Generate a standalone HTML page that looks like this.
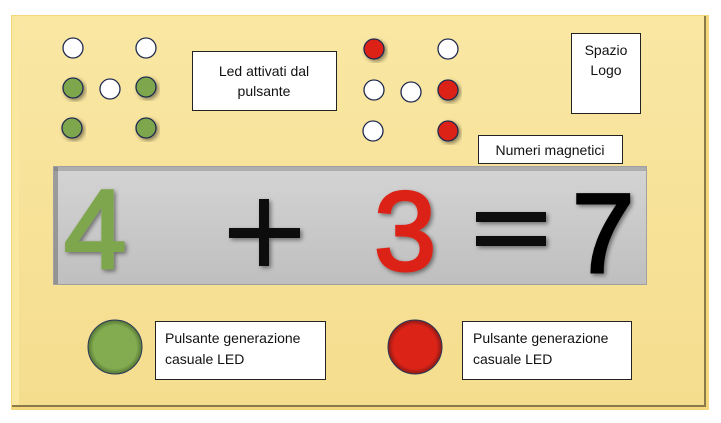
<!DOCTYPE html>
<html><head><meta charset="utf-8"><style>
html,body{margin:0;padding:0;background:#fff;width:721px;height:423px;overflow:hidden}
svg{display:block}
text{font-family:"Liberation Sans",sans-serif}
</style></head><body>
<svg width="721" height="423" viewBox="0 0 721 423" xmlns="http://www.w3.org/2000/svg">
<defs>
<linearGradient id="bg" x1="0" y1="0" x2="0" y2="1">
<stop offset="0" stop-color="#f9e7a3"/><stop offset="1" stop-color="#f5dd8e"/></linearGradient>
<linearGradient id="bar" x1="0" y1="0" x2="0" y2="1">
<stop offset="0" stop-color="#d4d4d4"/><stop offset="1" stop-color="#bfbfbf"/></linearGradient>
<filter id="sh" x="-20%" y="-20%" width="140%" height="140%"><feDropShadow dx="2" dy="2" stdDeviation="2" flood-color="#000" flood-opacity="0.45"/></filter>
<radialGradient id="rg" cx="0.5" cy="0.5" r="0.5"><stop offset="0.8" stop-color="#dc2318"/><stop offset="1" stop-color="#8a1a14"/></radialGradient>
<radialGradient id="gg" cx="0.5" cy="0.5" r="0.5"><stop offset="0.8" stop-color="#82ac4f"/><stop offset="1" stop-color="#557535"/></radialGradient>
</defs>
<rect x="11" y="15" width="698" height="395" fill="#f3d77a"/>
<rect x="12" y="16" width="694" height="391" fill="#8a7a4a"/>
<rect x="12" y="16" width="692" height="389" fill="#fbe8a0"/>
<rect x="19" y="22" width="685" height="383" fill="url(#bg)"/>
<g stroke="#1f2a4f" stroke-width="1.3">
<circle cx="73" cy="48" r="10" fill="#fff"/>
<circle cx="146" cy="48" r="10" fill="#fff"/>
<circle cx="110" cy="89" r="10" fill="#fff"/>
<circle cx="73" cy="88" r="10" fill="#7ea64e" filter="url(#sh)"/>
<circle cx="146" cy="87" r="10" fill="#7ea64e" filter="url(#sh)"/>
<circle cx="72" cy="128" r="10" fill="#7ea64e" filter="url(#sh)"/>
<circle cx="146" cy="128" r="10" fill="#7ea64e" filter="url(#sh)"/>
<circle cx="374" cy="49" r="10" fill="#dc2318" filter="url(#sh)"/>
<circle cx="448" cy="49" r="10" fill="#fff"/>
<circle cx="374" cy="90" r="10" fill="#fff"/>
<circle cx="411" cy="92" r="10" fill="#fff"/>
<circle cx="448" cy="90" r="10" fill="#dc2318" filter="url(#sh)"/>
<circle cx="373" cy="131" r="10" fill="#fff"/>
<circle cx="448" cy="131" r="10" fill="#dc2318" filter="url(#sh)"/>
</g>
<g fill="#fff" stroke="#222" stroke-width="1">
<rect x="192.5" y="51.5" width="144" height="59"/>
<rect x="571.5" y="33.5" width="69" height="80"/>
<rect x="478.5" y="135.5" width="144" height="28"/>
<rect x="155.5" y="321.5" width="170" height="58"/>
<rect x="462.5" y="321.5" width="169" height="58"/>
</g>
<g font-size="14" fill="#111" text-anchor="middle">
<text x="264" y="76">Led attivati dal</text>
<text x="264" y="96">pulsante</text>
<text x="606" y="55">Spazio</text>
<text x="606" y="75">Logo</text>
<text x="550" y="155">Numeri magnetici</text>
</g>
<g font-size="14" fill="#111">
<text x="165" y="343">Pulsante generazione</text>
<text x="165" y="364">casuale LED</text>
<text x="473" y="343">Pulsante generazione</text>
<text x="473" y="364">casuale LED</text>
</g>
<rect x="53" y="166" width="594" height="119" fill="#a0a0a0"/>
<rect x="54" y="167" width="592" height="117" fill="url(#bar)"/>
<rect x="54" y="167" width="592" height="4" fill="#888" opacity="0.5"/>
<rect x="54" y="167" width="4" height="117" fill="#666" opacity="0.5"/>
<g font-size="112" filter="url(#sh)" stroke-width="3">
<text x="64" y="268" fill="#7ea64e" stroke="#7ea64e">4</text>
<text x="374" y="270" fill="#dc2318" stroke="#dc2318">3</text>
<text x="572" y="272" fill="#000" stroke="#000">7</text>
</g>
<g fill="#111" filter="url(#sh)">
<rect x="229" y="228" width="71" height="10"/>
<rect x="259" y="199" width="10" height="67"/>
<rect x="476" y="212" width="70" height="10"/>
<rect x="476" y="236" width="70" height="10"/>
</g>
<circle cx="115" cy="347" r="27" fill="url(#gg)" stroke="#2c3a5a" stroke-width="1"/>
<circle cx="415" cy="347" r="27" fill="url(#rg)" stroke="#2c3a5a" stroke-width="1"/>
</svg>
</body></html>
